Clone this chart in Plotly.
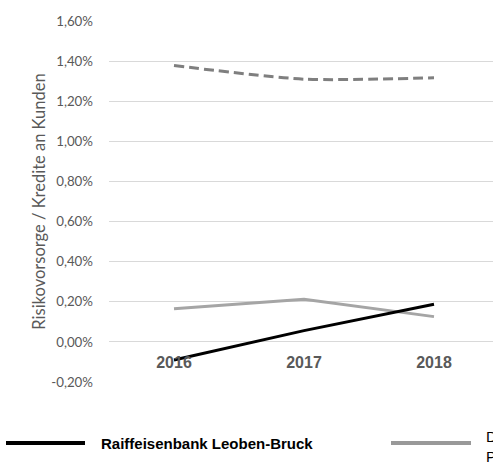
import plotly.graph_objects as go

years = ["2016", "2017", "2018"]
raiffeisen = [-0.0009, 0.00056, 0.00188]
peer = [0.00165, 0.00213, 0.00126]
sector = [0.01378, 0.01310, 0.01317]

series_names = ["Raiffeisenbank Leoben-Bruck", "Durchschnitt<br>Peergroup", "Durchschnitt Sektor"]
y_ticks = [-0.002, 0.0, 0.002, 0.004, 0.006, 0.008, 0.010, 0.012, 0.014, 0.016]
y_ticklabels = ["-0,20%", "0,00%", "0,20%", "0,40%", "0,60%", "0,80%", "1,00%", "1,20%", "1,40%", "1,60%"]

W, H = 493, 464
L, R, T, B = 109, 0, 21, 82
pw, ph = W - L - R, H - T - B

fig = go.Figure()
fig.add_trace(go.Scatter(x=years, y=sector, mode="lines", name=series_names[2],
                         line=dict(color="#7f7f7f", width=3, dash="10px,5px", shape="spline", smoothing=0.7)))
fig.add_trace(go.Scatter(x=years, y=peer, mode="lines", name=series_names[1],
                         line=dict(color="#a5a5a5", width=3)))
fig.add_trace(go.Scatter(x=years, y=raiffeisen, mode="lines", name=series_names[0],
                         line=dict(color="#000000", width=3)))

def px_x(px):
    return (px - L) / pw

def px_y(py):
    return (H - B - py) / ph

shapes = [
    dict(type="line", xref="paper", yref="paper", x0=px_x(6), x1=px_x(85), y0=px_y(443), y1=px_y(443),
         line=dict(color="#000000", width=4)),
    dict(type="line", xref="paper", yref="paper", x0=px_x(391), x1=px_x(471), y0=px_y(443), y1=px_y(443),
         line=dict(color="#999999", width=4)),
]
annotations = [
    dict(xref="paper", yref="paper", x=px_x(99), y=px_y(443), text="<b>" + series_names[0] + "</b>",
         showarrow=False, xanchor="left", yanchor="middle",
         font=dict(family="Liberation Sans, Arial", size=15, color="#000000")),
    dict(xref="paper", yref="paper", x=px_x(484), y=px_y(446), text=series_names[1],
         showarrow=False, xanchor="left", yanchor="middle", align="left",
         font=dict(family="Liberation Sans, Arial", size=15, color="#000000")),
]

fig.update_layout(
    width=W, height=H,
    margin=dict(l=L, r=R, t=T, b=B, pad=0),
    paper_bgcolor="white", plot_bgcolor="white",
    showlegend=False,
    shapes=shapes, annotations=annotations,
    xaxis=dict(
        type="category", range=[-0.5, 2.5 - 6 / 130],
        showgrid=False, zeroline=False, showline=False,
        anchor="free", position=0.2 / 1.8,
        ticks="outside", ticklen=6, tickcolor="rgba(0,0,0,0)",
        tickfont=dict(family="Liberation Sans, Arial", size=16, color="#595959", weight="bold"),
    ),
    yaxis=dict(
        range=[-0.002, 0.016], tickvals=y_ticks, ticktext=y_ticklabels,
        showgrid=True, gridcolor="#d9d9d9", gridwidth=1,
        zeroline=True, zerolinecolor="#d9d9d9", zerolinewidth=1,
        showline=False, ticks="", ticklabelstandoff=15,
        tickfont=dict(family="Lato, Open Sans", size=13.3, color="#595959"),
        title=dict(text="Risikovorsorge / Kredite an Kunden", standoff=1,
                   font=dict(family="Lato, Open Sans", size=16.5, color="#595959")),
    ),
)

fig.write_html("out.html", config={"displayModeBar": False},
               post_script="document.body.style.margin='0';document.body.style.overflow='hidden';")
